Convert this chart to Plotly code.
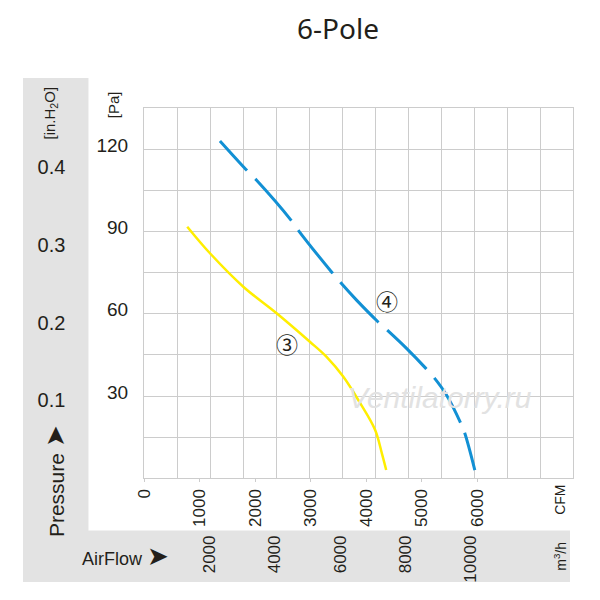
import plotly.graph_objects as go

# fan curves, airflow in CFM, pressure in Pa
cfm_3 = [779, 1188, 1788, 2389, 2988, 3289, 3588, 3894, 4164, 4285, 4363]
pa_3 = [91.8, 82.1, 69.9, 60.2, 49.8, 44.3, 37.1, 27.4, 17.6, 9.1, 3.0]

cfm_4 = [1368, 1860, 2016, 2659, 2790, 3390, 3528, 3829, 4200, 4369, 4729, 5077, 5226, 5449, 5701, 5779, 5959]
pa_4 = [123.1, 112.2, 109.0, 93.9, 90.2, 75.0, 71.7, 65.0, 57.4, 54.3, 47.4, 40.1, 36.7, 30.4, 20.3, 16.4, 3.0]

cfm_ticks = [0, 1000, 2000, 3000, 4000, 5000, 6000]
m3h_ticks = [2000, 4000, 6000, 8000, 10000]
m3h_text = ['2000', '4000', '6000', '8000', '10000']
pa_ticks = [0, 15, 30, 45, 60, 75, 90, 105, 120, 135]
pa_text = ['', '', '30', '', '60', '', '90', '', '120', '']
inh2o_ticks = [0.1, 0.2, 0.3, 0.4]

cfm_max = 7728
m3h_per_cfm = 1.699
pa_max = 135
pa_per_01in = 28.4

dark = '#231f1a'
grid = '#cccccc'
band = '#e3e3e3'

fig = go.Figure()
fig.add_trace(go.Scatter(x=cfm_3, y=pa_3, mode='lines', line=dict(color='#ffee00', width=2.5, shape='spline')))
fig.add_trace(go.Scatter(x=cfm_4, y=pa_4, mode='lines',
                         line=dict(color='#1290d4', width=3, shape='spline',
                                   dash='40px,12px,55px,12px,55px,12px,55px,12px,55px,12px,52px,11px,60px')))
# dummy traces so the extra axes get drawn
fig.add_trace(go.Scatter(x=[None], y=[None], xaxis='x2', yaxis='y', hoverinfo='skip'))
fig.add_trace(go.Scatter(x=[None], y=[None], xaxis='x', yaxis='y2', hoverinfo='skip'))

# gray bands round the axes
fig.add_shape(type='rect', xref='paper', yref='paper', x0=0, x1=0.119, y0=0, y1=1,
              fillcolor=band, line_width=0, layer='below')
fig.add_shape(type='rect', xref='paper', yref='paper', x0=0, x1=0.9945, y0=0, y1=0.102,
              fillcolor=band, line_width=0, layer='below')

# page body has an 8px margin, so the figure is 592 wide and margins are shifted by 8
fig.update_layout(
    width=592, height=592,
    margin=dict(l=15, r=27, t=70, b=18, autoexpand=False),
    paper_bgcolor='white', plot_bgcolor='white',
    showlegend=False,
    font=dict(family='Liberation Sans, Arial', color=dark),
    xaxis=dict(domain=[0.22, 1], range=[0, cfm_max], tickvals=cfm_ticks, tickangle=-90,
               ticks='outside', ticklen=3, tickcolor=grid, tickfont=dict(size=17, color=dark),
               showgrid=False, zeroline=False, showline=True, linecolor=grid, mirror=True, automargin=False,
               minor=dict(tick0=0, dtick=cfm_max / 13, showgrid=True, gridcolor=grid, gridwidth=1, ticks='')),
    xaxis2=dict(overlaying='x', anchor='free', position=0.101, side='bottom',
                range=[0, cfm_max * m3h_per_cfm], tickvals=m3h_ticks, ticktext=m3h_text, tickangle=-90,
                ticks='', showgrid=False, zeroline=False, showline=False, automargin=False,
                tickfont=dict(size=17, color=dark)),
    yaxis=dict(domain=[0.2058, 0.9399], range=[0, pa_max], tickvals=pa_ticks, ticktext=pa_text,
               showgrid=True, gridcolor=grid, gridwidth=1, zeroline=False, ticks='', automargin=False,
               showline=True, linecolor=grid, mirror=True, ticklabelstandoff=11, ticklabelshift=-4,
               tickfont=dict(size=19, color=dark)),
    yaxis2=dict(overlaying='y', anchor='free', position=0.077, side='left',
                range=[0, pa_max / pa_per_01in * 0.1], tickvals=inh2o_ticks,
                ticks='', showgrid=False, zeroline=False, showline=False, automargin=False,
                tickfont=dict(size=20, color=dark)),
)


def label(text, x, y, size, angle=0, family=None, ref='paper'):
    fig.add_annotation(text=text, x=x, y=y, xref=ref if ref == 'paper' else 'x', yref=ref if ref == 'paper' else 'y',
                       showarrow=False, textangle=angle, xanchor='center', yanchor='middle',
                       font=dict(size=size, family=family))


arrow = "<span style='font-size:26px'>➤</span>"
label('6-Pole', 0.5727, 1.099, 28, family='Noto Sans')
label('[Pa]', 0.1636, 0.948, 15, angle=-90)
label('[in.H<sub>2</sub>O]', 0.05, 0.9306, 15, angle=-90)
label('Pressure ' + arrow, 0.058, 0.2, 21, angle=-90)
label('AirFlow ' + arrow, 0.1855, 0.0516, 18)
label('CFM', 0.976, 0.1627, 14, angle=-90)
label('m<sup>3</sup>/h', 0.976, 0.0516, 14, angle=-90)

# curve numbers and watermark
label('③', 2574, 49.3, 22, family='Noto Sans CJK SC', ref='data')
label('④', 4369, 65.1, 22, family='Noto Sans CJK SC', ref='data')
fig.add_annotation(text='<i>Ventilatorry.ru</i>', x=5329, y=29.3, showarrow=False,
                   font=dict(family='Liberation Sans', size=30, color='#e2e2e2'))

fig.write_html('out.html')
